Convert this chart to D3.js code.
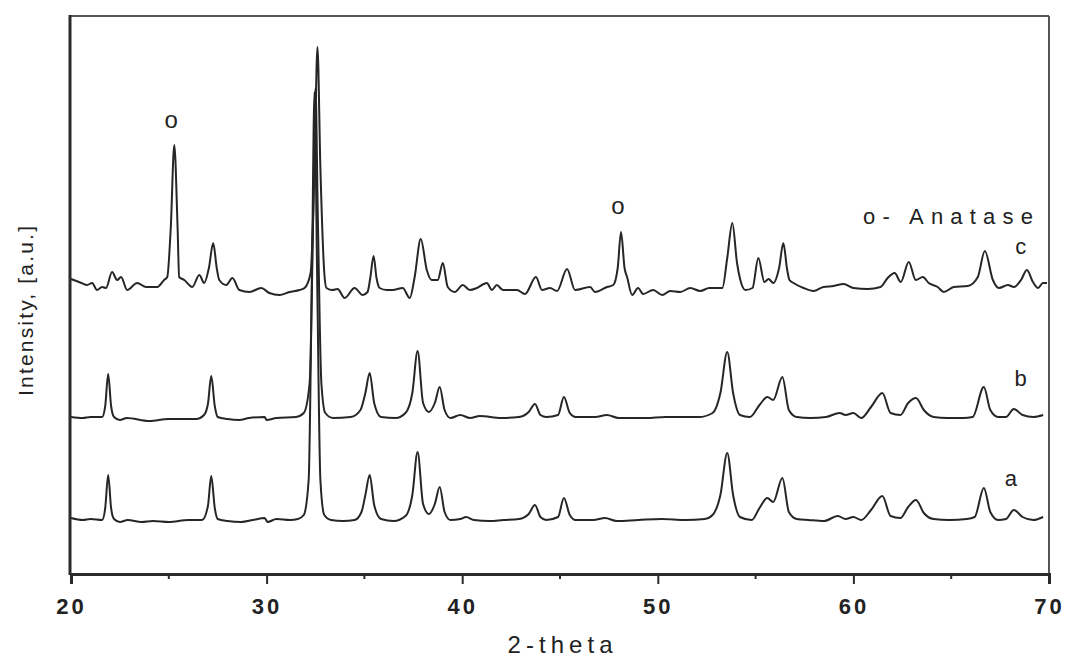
<!DOCTYPE html>
<html>
<head>
<meta charset="utf-8">
<script src="https://cdn.jsdelivr.net/npm/d3@7"></script>
<style>
  html, body { margin: 0; padding: 0; background: #fff; }
  #canvas { width: 1066px; height: 658px; }
  text { font-family: "Liberation Sans", Arial, sans-serif; fill: #222; }
</style>
</head>
<body>
<div id="canvas"></div>
<script>
// XRD patterns, [2-theta, intensity above each pattern's own baseline]
var patternA = [
	[20.0, 2], [20.6, 0], [21.0, 1], [21.59, 0], [21.75, 12], [21.9, 45], [22.05, 12], [22.2, 1], [22.5, -2], [22.9, 0],
	[23.6, -2], [24.2, -1], [25.0, -2], [26.0, 0], [26.7, 0], [27.0, 14], [27.17, 44], [27.35, 12], [27.5, 1], [28.0, -1],
	[28.7, -2], [29.3, 0], [29.9, 2], [30.05, -2], [30.5, 1], [31.2, 0], [31.6, 1], [31.9, 5], [32.15, 40], [32.32, 250],
	[32.45, 428], [32.58, 250], [32.75, 40], [32.95, 5], [33.3, 0], [33.9, -1], [34.5, 0], [34.85, 8], [35.05, 25], [35.27, 45],
	[35.5, 15], [35.85, 1], [36.5, -1], [37.1, 4], [37.45, 25], [37.72, 68], [38.0, 16], [38.3, 6], [38.6, 16], [38.85, 33],
	[39.1, 8], [39.4, 0], [39.9, 1], [40.2, 3], [40.6, 0], [41.4, -1], [42.1, 0], [42.9, 1], [43.4, 6], [43.72, 15],
	[44.0, 3], [44.3, 0], [44.9, 3], [45.2, 22], [45.5, 5], [45.8, 0], [46.7, 0], [47.3, 2], [47.9, -1], [49.0, 0],
	[50.2, 1], [51.4, 0], [52.4, 1], [52.8, 5], [53.2, 25], [53.55, 67], [53.85, 25], [54.2, 3], [54.8, 0], [55.2, 12],
	[55.6, 22], [55.9, 18], [56.37, 42], [56.7, 8], [57.1, 1], [57.7, 0], [58.5, -1], [59.2, 4], [59.6, 1], [60.0, 3],
	[60.4, 0], [60.9, 10], [61.48, 24], [61.9, 4], [62.4, 2], [62.8, 13], [63.2, 20], [63.6, 7], [64.1, 1], [64.9, 0],
	[65.8, 1], [66.2, 3], [66.67, 32], [67.0, 8], [67.4, 0], [67.8, 1], [68.2, 10], [68.65, 3], [69.2, 0], [69.7, 3]
];
var patternB = [
	[20.0, 1], [20.6, 0], [21.0, 1], [21.59, 1], [21.75, 12], [21.9, 44], [22.05, 12], [22.2, 1], [22.5, -2], [22.85, 0],
	[24.0, -3], [25.0, -1], [26.4, -1], [26.8, 3], [27.0, 14], [27.17, 42], [27.35, 12], [27.5, 1], [28.0, -1], [28.6, -2],
	[29.1, 0], [29.9, 1], [30.0, -2], [30.5, 0], [31.5, 1], [31.9, 5], [32.2, 35], [32.38, 200], [32.5, 330], [32.62, 200],
	[32.8, 35], [33.0, 5], [33.4, 0], [34.3, 1], [34.8, 8], [35.05, 25], [35.27, 45], [35.5, 15], [35.85, 1], [36.6, 0],
	[37.1, 5], [37.45, 25], [37.72, 67], [38.0, 15], [38.3, 6], [38.6, 15], [38.85, 31], [39.1, 8], [39.4, 0], [39.9, 3],
	[40.4, 0], [40.9, 2], [42.0, 0], [42.9, 1], [43.4, 6], [43.72, 14], [44.0, 3], [44.3, 1], [44.9, 3], [45.2, 21],
	[45.5, 5], [45.8, 1], [46.8, 1], [47.4, 3], [48.0, 0], [49.4, 0], [50.4, 1], [52.1, 1], [52.8, 5], [53.2, 25],
	[53.55, 66], [53.85, 25], [54.2, 3], [54.7, 1], [55.2, 13], [55.6, 21], [55.9, 18], [56.37, 41], [56.7, 8], [57.1, 1],
	[57.8, 0], [58.6, 1], [59.3, 5], [59.6, 3], [60.0, 5], [60.4, 0], [60.9, 11], [61.48, 25], [61.9, 5], [62.4, 3],
	[62.8, 15], [63.2, 20], [63.6, 8], [64.1, 1], [64.8, 0], [65.6, 0], [66.1, 1], [66.67, 31], [67.0, 8], [67.4, 1],
	[67.8, 1], [68.2, 9], [68.65, 3], [69.2, 1], [69.7, 3]
];
var patternC = [
	[20.0, 9], [20.41, 6], [20.82, 3], [21.08, 5], [21.33, -2], [21.59, 1], [21.79, 0], [22.1, 16], [22.36, 8], [22.56, 11],
	[22.87, -2], [23.38, 5], [23.84, 1], [24.41, 1], [24.76, 8], [24.92, 11], [25.1, 60], [25.28, 143], [25.45, 60], [25.53, 11],
	[25.79, 8], [26.2, 1], [26.56, 13], [26.81, 5], [27.05, 20], [27.27, 45], [27.45, 20], [27.58, 8], [27.94, 3], [28.25, 10],
	[28.61, -2], [29.12, -4], [29.73, 0], [30.14, -5], [30.66, -7], [31.17, -4], [31.68, -2], [31.94, 0], [32.25, 15], [32.45, 120],
	[32.6, 241], [32.75, 120], [32.95, 15], [33.06, 0], [33.37, -2], [33.63, -1], [33.99, -10], [34.5, 0], [34.91, -7], [35.16, -4],
	[35.3, 10], [35.47, 32], [35.62, 10], [35.78, 0], [36.14, -2], [36.44, -2], [36.96, 0], [37.32, -10], [37.57, 11], [37.88, 49],
	[38.19, 18], [38.44, 8], [38.75, 8], [39.01, 25], [39.26, 1], [39.62, -4], [40.03, 3], [40.39, -2], [40.75, 0], [41.26, 5],
	[41.52, -2], [41.77, 3], [42.08, -2], [42.8, -2], [43.21, -6], [43.77, 11], [44.08, -2], [44.49, 0], [44.85, -3], [45.36, 19],
	[45.77, -2], [46.54, 1], [46.79, -4], [47.41, 1], [47.72, 3], [47.95, 20], [48.12, 56], [48.3, 20], [48.43, 11], [48.69, -7],
	[48.99, 0], [49.25, -6], [49.76, -2], [50.23, -7], [50.63, -3], [51.15, -4], [51.66, 0], [52.17, -3], [52.63, 0], [53.3, 0],
	[53.55, 30], [53.81, 65], [54.05, 25], [54.22, 8], [54.48, -2], [54.84, 0], [55.14, 30], [55.45, 6], [55.66, 9], [55.91, 5],
	[56.2, 20], [56.42, 45], [56.6, 20], [56.73, 8], [56.94, 5], [57.45, 0], [57.96, -3], [58.47, 1], [58.99, 2], [59.5, 4],
	[60.01, 0], [60.73, -1], [61.39, 1], [61.75, 10], [62.11, 15], [62.42, 6], [62.83, 26], [63.19, 8], [63.55, 11], [63.85, 5],
	[64.31, 1], [64.62, -4], [65.13, 1], [65.85, 2], [66.36, 11], [66.72, 37], [67.13, 8], [67.44, 0], [67.9, 3], [68.21, 1],
	[68.57, 8], [68.87, 18], [69.18, 6], [69.44, 0], [69.69, 5], [69.9, 5]
];

var patterns = [patternA, patternB, patternC];
var patternNames = ['a', 'b', 'c'];
var patternOffsets = [54, 156, 286];      // vertical stacking offsets (a.u.)
var nameAt = [[68.05, 88], [68.55, 188], [68.55, 320]]; // label anchors [2-theta, a.u.]
var anatasePeaks = [[25.28, 286 + 160], [48.12, 286 + 74]]; // 'o' marks
var legendText = 'o- Anatase';
var xTicks = [20, 30, 40, 50, 60, 70];
var xMinorTicks = [25, 35, 45, 55, 65];
var xDomain = [20, 70];
var yDomain = [0, 558];

document.addEventListener('DOMContentLoaded', function() {

	var width = 1066,
		height = 658,
		left = 71,
		right = 1049,
		top = 16,
		bottom = 574;

	var svg = d3.select('#canvas').append('svg')
		.attr('width', width)
		.attr('height', height);

	var x = d3.scaleLinear().domain(xDomain).range([left, right]),
		y = d3.scaleLinear().domain(yDomain).range([bottom, top]);

	// Frame: thin top/right, heavy left/bottom
	svg.append('line').attr('x1', left).attr('x2', right).attr('y1', top).attr('y2', top)
		.attr('stroke', '#555').attr('stroke-width', 2);
	svg.append('line').attr('x1', right).attr('x2', right).attr('y1', top).attr('y2', bottom)
		.attr('stroke', '#555').attr('stroke-width', 2);

	// Traces
	var line = d3.line()
		.x(function(d) { return x(d[0]); })
		.curve(d3.curveMonotoneX);

	patterns.forEach(function(p, i) {
		line.y(function(d) { return y(d[1] + patternOffsets[i]); });
		svg.append('path')
			.datum(p)
			.attr('d', line)
			.attr('fill', 'none')
			.attr('stroke', '#262626')
			.attr('stroke-width', 2)
			.attr('stroke-linejoin', 'round');
	});

	// Bottom axis
	var xAxis = d3.axisBottom(x)
		.tickValues(xTicks)
		.tickSize(10)
		.tickPadding(14)
		.tickFormat(d3.format('d'));
	var gx = svg.append('g')
		.attr('transform', 'translate(0,' + bottom + ')')
		.call(xAxis);
	gx.select('.domain').attr('stroke', '#2b2b2b').attr('stroke-width', 3);
	gx.selectAll('.tick line').attr('stroke', '#2b2b2b').attr('stroke-width', 2);
	gx.selectAll('.tick text')
		.attr('fill', '#222')
		.style('font-family', '"Liberation Sans", Arial, sans-serif')
		.style('font-size', '22px')
		.style('font-weight', 'bold')
		.style('letter-spacing', '3px');
	gx.selectAll('.minor')
		.data(xMinorTicks)
		.enter()
		.append('line')
		.attr('x1', function(d) { return x(d); })
		.attr('x2', function(d) { return x(d); })
		.attr('y1', 0)
		.attr('y2', 5)
		.attr('stroke', '#2b2b2b')
		.attr('stroke-width', 2);

	// Left axis (no ticks)
	svg.append('line').attr('x1', left - 1).attr('x2', left - 1).attr('y1', top - 1).attr('y2', bottom + 1)
		.attr('stroke', '#2b2b2b').attr('stroke-width', 3);

	// Axis titles
	svg.append('text')
		.attr('x', (left + right) / 2)
		.attr('y', 653)
		.attr('text-anchor', 'middle')
		.attr('textLength', 105)
		.attr('lengthAdjust', 'spacing')
		.style('font-size', '24px')
		.text('2-theta');

	svg.append('text')
		.attr('transform', 'translate(33,311) rotate(-90)')
		.attr('text-anchor', 'middle')
		.attr('textLength', 170)
		.attr('lengthAdjust', 'spacing')
		.style('font-size', '21px')
		.text('Intensity, [a.u.]');

	// Pattern names
	svg.selectAll('.pname')
		.data(patternNames)
		.enter()
		.append('text')
		.attr('x', function(d, i) { return x(nameAt[i][0]); })
		.attr('y', function(d, i) { return y(nameAt[i][1]); })
		.attr('text-anchor', 'middle')
		.style('font-size', '22px')
		.text(function(d) { return d; });

	// Anatase marks
	svg.selectAll('.omark')
		.data(anatasePeaks)
		.enter()
		.append('text')
		.attr('x', function(d) { return x(d[0]) - 3; })
		.attr('y', function(d) { return y(d[1]); })
		.attr('text-anchor', 'middle')
		.style('font-size', '24px')
		.text('o');

	svg.append('text')
		.attr('x', 863)
		.attr('y', y(286 + 64))
		.attr('textLength', 170)
		.attr('lengthAdjust', 'spacing')
		.style('font-size', '22px')
		.text(legendText);
});
</script>
</body>
</html>
